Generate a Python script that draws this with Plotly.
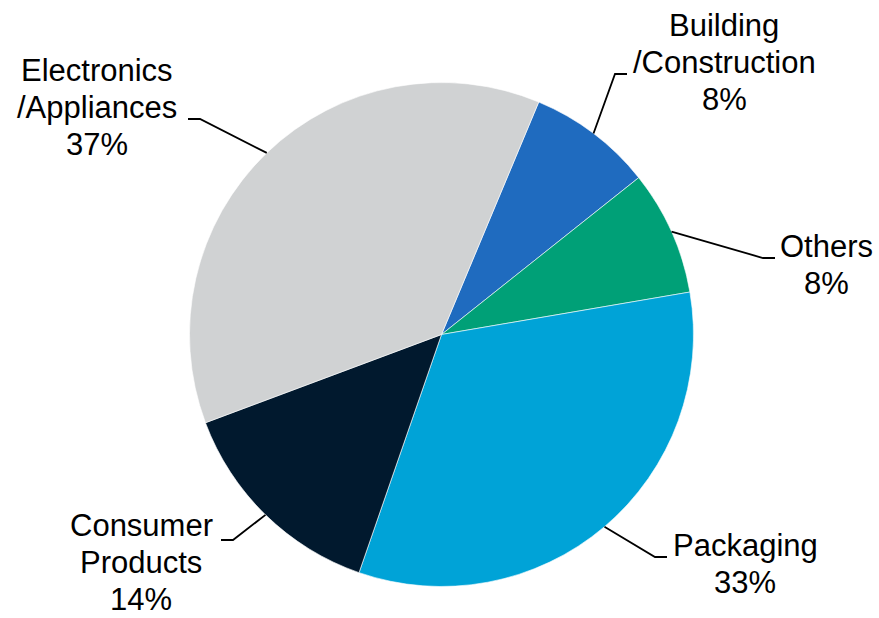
import math
import plotly.graph_objects as go

# Market share by end-use segment
segments = ["Building/Construction", "Others", "Packaging", "Consumer Products", "Electronics/Appliances"]
shares = [8, 8, 33, 14, 37]
label_lines = [["Building", "/Construction"], ["Others"], ["Packaging"],
               ["Consumer", "Products"], ["Electronics", "/Appliances"]]
colors = ["#1F6BBF", "#00A077", "#00A3D7", "#01192E", "#D0D2D3"]

W, H = 879, 618
CX, CY, R = 441.5, 334.5, 252          # pie centre and radius in pixels
ROTATION = 22.7                        # start angle of the first slice (deg, clockwise from 12 o'clock)
FONT = dict(family="Arial, Liberation Sans, sans-serif", size=31, color="#000000")
LINE_GAP = 36.7                        # distance between label baselines

# label placement: elbow of the leader line, side of the text, text centre x, baseline of first line
label_layout = {
    "Building/Construction": dict(elbow=(615, 74), side=1, cx=724, base=37),
    "Others": dict(elbow=(763, 258), side=1, cx=826, base=258),
    "Packaging": dict(elbow=(655, 557), side=1, cx=745, base=557),
    "Consumer Products": dict(elbow=(233, 540), side=-1, cx=141, base=537),
    "Electronics/Appliances": dict(elbow=(200, 119), side=-1, cx=97, base=82),
}


def px_to_paper(x, y):
    return x / W, 1 - y / H


fig = go.Figure(go.Pie(
    labels=segments,
    values=shares,
    sort=False,
    direction="clockwise",
    rotation=ROTATION,
    marker=dict(colors=colors, line=dict(color="#FFFFFF", width=0.6)),
    textinfo="none",
    hovertemplate="%{label}: %{value}%<extra></extra>",
    domain=dict(x=[(CX - R) / W, (CX + R) / W], y=[1 - (CY + R) / H, 1 - (CY - R) / H]),
    showlegend=False,
))

shapes, annotations = [], []
total = sum(shares)
cum = 0
for name, val, lines in zip(segments, shares, label_lines):
    mid = math.radians(ROTATION + 360 * (cum + val / 2) / total)
    cum += val
    ex, ey = CX + R * math.sin(mid), CY - R * math.cos(mid)
    lay = label_layout[name]
    bx, by = lay["elbow"]
    tx = bx + lay["side"] * 12
    pts = [px_to_paper(ex, ey), px_to_paper(bx, by), px_to_paper(tx, by)]
    path = "M {} {} L {} {} L {} {}".format(*[c for p in pts for c in p])
    shapes.append(dict(type="path", path=path, xref="paper", yref="paper",
                       line=dict(color="#000000", width=1.8)))

    text_lines = lines + [f"{val}%"]
    for i, t in enumerate(text_lines):
        base = lay["base"] + i * LINE_GAP
        x, y = px_to_paper(lay["cx"], base - 0.36 * FONT["size"])
        annotations.append(dict(text=t, x=x, y=y, xref="paper", yref="paper",
                                xanchor="center", yanchor="middle", showarrow=False,
                                borderpad=0, font=FONT))

fig.update_layout(
    width=W, height=H,
    margin=dict(l=0, r=0, t=0, b=0),
    paper_bgcolor="#FFFFFF", plot_bgcolor="#FFFFFF",
    shapes=shapes, annotations=annotations,
)

fig.write_html("out.html")
